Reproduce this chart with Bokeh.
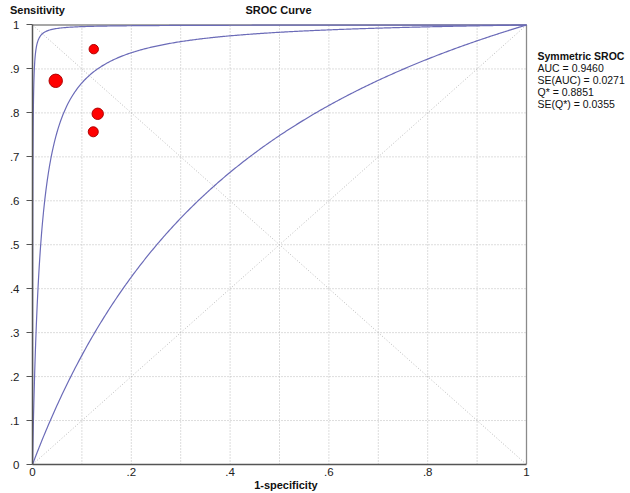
import numpy as np
from bokeh.plotting import figure
from bokeh.models import Range1d, FixedTicker, Label, ColumnDataSource, LinearAxis
from bokeh.embed import file_html
from bokeh.resources import INLINE

# ---- data ----
study_fpr = [0.124, 0.047, 0.132, 0.123]
study_tpr = [0.945, 0.873, 0.798, 0.757]
study_weight = [0.70, 1.00, 0.85, 0.75]

# symmetric SROC curves, parameterised by Q* (point where sens = spec)
sroc_q = [0.633, 0.8851, 0.980]

diag_x = [0.0, 1.0]
diag_y = [0.0, 1.0]
anti_y = [1.0, 0.0]

y_ticks = [0.0, 0.1, 0.2, 0.3, 0.4, 0.5, 0.6, 0.7, 0.8, 0.9, 1.0]
y_tick_labels = ["0", ".1", ".2", ".3", ".4", ".5", ".6", ".7", ".8", ".9", "1"]
x_ticks = [0.0, 0.2, 0.4, 0.6, 0.8, 1.0]
x_tick_labels = ["0", ".2", ".4", ".6", ".8", "1"]
grid_ticks = [0.1, 0.2, 0.3, 0.4, 0.5, 0.6, 0.7, 0.8, 0.9]

title_text = "SROC Curve"
y_title = "Sensitivity"
x_title = "1-specificity"
legend_title = "Symmetric SROC"
legend_lines = ["AUC = 0.9460", "SE(AUC) = 0.0271", "Q* = 0.8851", "SE(Q*) = 0.0355"]

FONT = "Liberation Sans"
CURVE = "#6b6bb8"
GRID = "#bababa"
AXIS = "#555555"
BORDER = "#8a8a8a"
TXT = "#111111"

W, H = 630, 493
LEFT, TOP, BOTTOM = 32, 23, 28
PX_X = 494.0      # pixels per unit on x
PX_Y = 440.5      # pixels per unit on y
x_end = (W - LEFT) / PX_X
y_end = (H - BOTTOM - TOP) / PX_Y

p = figure(width=W, height=H, output_backend="svg", toolbar_location=None,
           x_range=Range1d(0, x_end), y_range=Range1d(0, y_end),
           x_axis_location=None, y_axis_location=None,
           min_border_left=LEFT, min_border_right=0, min_border_top=TOP,
           min_border_bottom=BOTTOM)
p.background_fill_color = "white"
p.border_fill_color = "white"
p.outline_line_color = None
p.xgrid.visible = False
p.ygrid.visible = False


def bare_axis(ticks, labels, standoff, bold):
    ax = LinearAxis(ticker=FixedTicker(ticks=ticks),
                    major_label_overrides={t: l for t, l in zip(ticks, labels)})
    ax.axis_line_color = None
    ax.major_tick_line_color = None
    ax.minor_tick_line_color = None
    ax.major_tick_in = 0
    ax.major_tick_out = 0
    ax.major_label_standoff = standoff
    ax.major_label_text_font = FONT
    ax.major_label_text_font_size = "11px"
    ax.major_label_text_font_style = "bold" if bold else "normal"
    ax.major_label_text_color = TXT
    return ax


# ---- axes ----
xax = LinearAxis(ticker=FixedTicker(ticks=x_ticks), bounds=(0, 1),
                 major_label_overrides={t: l for t, l in zip(x_ticks, x_tick_labels)})
yax = LinearAxis(ticker=FixedTicker(ticks=y_ticks), bounds=(0, 1),
                 major_label_overrides={t: l for t, l in zip(y_ticks, y_tick_labels)})
for ax in (xax, yax):
    ax.axis_line_color = AXIS
    ax.axis_line_width = 1.5
    ax.minor_tick_line_color = None
    ax.major_tick_in = 0
    ax.major_label_text_font = FONT
    ax.major_label_text_font_size = "11.5px"
    ax.major_label_text_color = "#222222"
xax.major_tick_out = 0
xax.major_label_standoff = 3
yax.major_tick_out = 6
yax.major_tick_line_color = AXIS
yax.major_label_standoff = 7
p.add_layout(xax, "below")
p.add_layout(yax, "left")

# x title as the single label of a bare axis under the tick labels
x_title_pos = [0.513]
p.add_layout(bare_axis(x_title_pos, [x_title], 0, True), "below")

# header row (y title and chart title) as labels of a bare top axis
head_pos = [0.010, 0.498]
p.add_layout(bare_axis(head_pos, [y_title, title_text], 8, True), "above")

# ---- grid (dotted), frame border, diagonals ----
zeros = [0.0] * len(grid_ticks)
ones = [1.0] * len(grid_ticks)
p.segment(x0=grid_ticks, y0=zeros, x1=grid_ticks, y1=ones,
          line_color=GRID, line_dash="1 2", line_width=1)
p.segment(x0=zeros, y0=grid_ticks, x1=ones, y1=grid_ticks,
          line_color=GRID, line_dash="1 2", line_width=1)
p.line(diag_x, diag_y, line_color=GRID, line_dash="1 2", line_width=1)
p.line(diag_x, anti_y, line_color=GRID, line_dash="1 2", line_width=1)
p.line([0.0, 1.0, 1.0], [1.0, 1.0, 0.0], line_color=BORDER, line_width=1.3)

# ---- SROC curves ----
f = np.concatenate([np.geomspace(1e-6, 0.02, 200), np.linspace(0.02, 1.0, 400)[1:]])
for q in sroc_q:
    d = 2.0 * np.log(q / (1.0 - q))
    tpr = 1.0 / (1.0 + np.exp(-d) * (1.0 - f) / f)
    xs = np.concatenate([[0.0], f])
    ys = np.concatenate([[0.0], tpr])
    p.line(xs, ys, line_color=CURVE, line_width=1.2)

# ---- studies ----
src = ColumnDataSource(dict(x=study_fpr, y=study_tpr,
                            s=[13.4 * w for w in study_weight]))
p.scatter("x", "y", size="s", source=src, fill_color="#ff0000",
          line_color="#b00000", line_width=1)

# ---- legend block on the right ----
lx = 1.0 + 11.0 / PX_X
ly0 = 1.0 - (56 - 24.5) / PX_Y
p.add_layout(Label(x=lx, y=ly0, text=legend_title, text_font=FONT,
                   text_font_size="10.5px", text_font_style="bold",
                   text_align="left", text_baseline="middle", text_color=TXT))
for i, t in enumerate(legend_lines):
    p.add_layout(Label(x=lx, y=ly0 - 12.0 * (i + 1) / PX_Y, text=t, text_font=FONT,
                       text_font_size="10.5px", text_align="left",
                       text_baseline="middle", text_color=TXT))

open("out.html", "w").write(file_html(p, INLINE))
